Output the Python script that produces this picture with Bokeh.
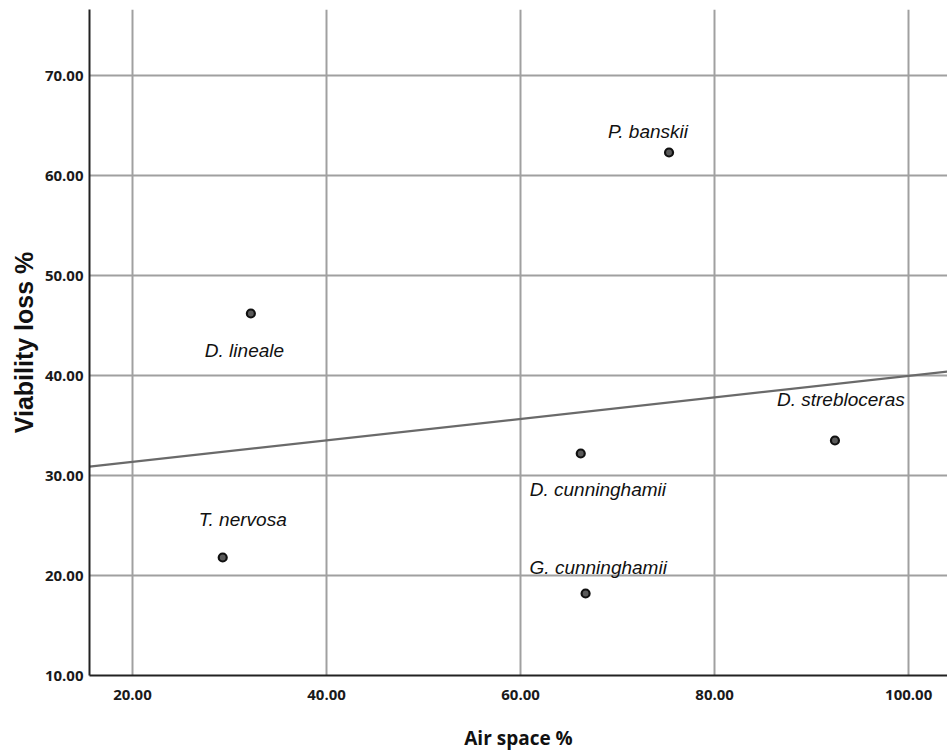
import numpy as np
from bokeh.plotting import figure
from bokeh.models import ColumnDataSource, LabelSet, NumeralTickFormatter, FixedTicker, Range1d
from bokeh.core.properties import value
from bokeh.embed import file_html
from bokeh.resources import INLINE

# Data
species = ["P. banskii", "D. strebloceras", "D. cunninghamii", "G. cunninghamii", "T. nervosa", "D. lineale"]
air_space = [75.3, 92.4, 66.2, 66.7, 29.3, 32.2]
viability_loss = [62.3, 33.5, 32.2, 18.2, 21.8, 46.2]
x_ticks = [20, 40, 60, 80, 100]
y_ticks = [10, 20, 30, 40, 50, 60, 70]

# label placement (pixels, layout only)
label_dx = [-61, -58, -51, -56, -24, -46]
label_dy = [21, 41, -36, 26, 38, -37]

p = figure(width=947, height=753, output_backend="svg", toolbar_location=None,
           x_range=Range1d(15.57, 104.0), y_range=Range1d(10, 76.6),
           min_border_left=89, min_border_right=0, min_border_top=9, min_border_bottom=72)
p.outline_line_color = None
p.background_fill_color = "white"
p.border_fill_color = "white"

# grid
for g in (p.xgrid, p.ygrid):
    g.grid_line_color = "#a0a0a0"
    g.grid_line_width = 2
p.xaxis.ticker = FixedTicker(ticks=x_ticks)
p.yaxis.ticker = FixedTicker(ticks=y_ticks)
p.xgrid.ticker = FixedTicker(ticks=x_ticks)
p.ygrid.ticker = FixedTicker(ticks=y_ticks)

for ax in (p.xaxis, p.yaxis):
    ax.formatter = NumeralTickFormatter(format="0.00")
    ax.major_tick_line_color = None
    ax.minor_tick_line_color = None
    ax.axis_line_color = "#222222"
    ax.axis_line_width = 2
    ax.major_label_text_font = "Open Sans"
    ax.major_label_text_font_style = "bold"
    ax.major_label_text_font_size = "15px"
    ax.major_label_text_color = "#1a1a1a"
    ax.axis_label_text_font_style = "bold"
    ax.axis_label_text_color = "#111111"

p.xaxis.major_label_standoff = 8
p.yaxis.major_label_standoff = 0
p.xaxis.axis_label = "Air space %"
p.xaxis.axis_label_text_font = "Open Sans"
p.xaxis.axis_label_text_font_size = "19px"
p.xaxis.axis_label_standoff = 22
p.yaxis.axis_label = "Viability loss %"
p.yaxis.axis_label_text_font = "Liberation Sans"
p.yaxis.axis_label_text_font_size = "25px"
p.yaxis.axis_label_standoff = 4

# fit line computed from the data
slope, intercept = np.polyfit(air_space, viability_loss, 1)
xs = np.array([p.x_range.start, p.x_range.end])
p.line(xs, slope * xs + intercept, line_color="#6a6a6a", line_width=2.2)

src = ColumnDataSource(dict(x=air_space, y=viability_loss, name=species, dx=label_dx, dy=label_dy))
p.scatter("x", "y", source=src, size=8, fill_color="#5a5a5a", line_color="#111111", line_width=2.2)

labels = LabelSet(x="x", y="y", text="name", x_offset="dx", y_offset="dy", source=src,
                  text_font=value("Liberation Sans"), text_font_style="italic", text_font_size="19px",
                  text_color="#111111", text_align="left", text_baseline="middle")
p.add_layout(labels)

open("out.html", "w").write(file_html(p, INLINE))
